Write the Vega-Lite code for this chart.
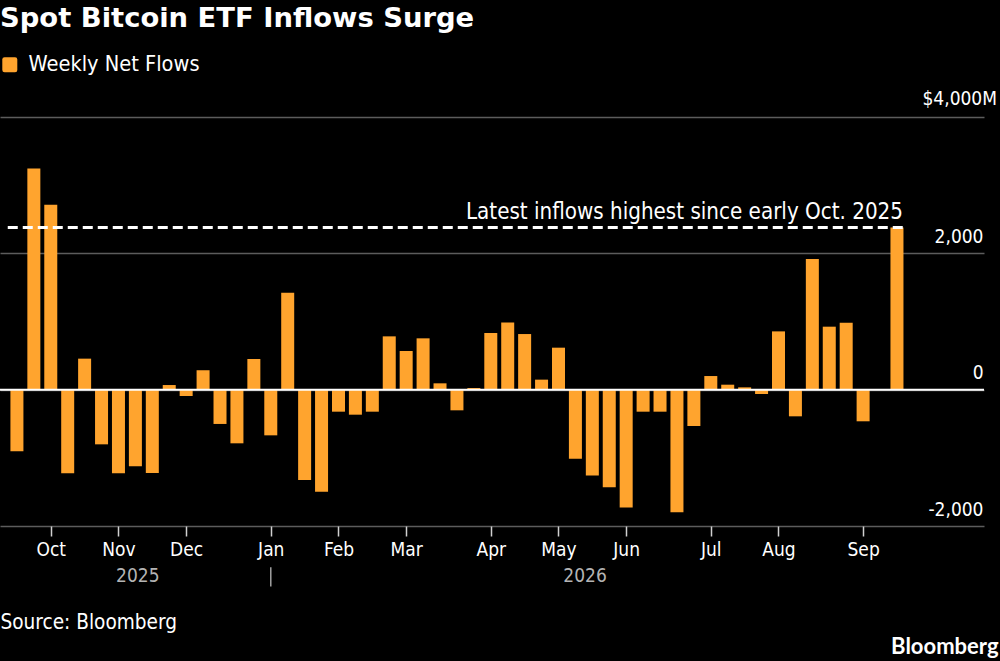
{
  "$schema": "https://vega.github.io/schema/vega-lite/v6.json",
  "background": "#000000",
  "autosize": "none",
  "padding": {"left": 0, "top": 117, "right": 16, "bottom": 135},
  "width": 984,
  "height": 409,
  "title": {"text": "Spot Bitcoin ETF Inflows Surge", "anchor": "start", "frame": "group", "offset": 22, "color": "#ffffff", "font": "DejaVu Sans", "fontSize": 27.4, "fontWeight": "bold", "limit": 700},
  "config": {"view": {"stroke": "transparent"}, "font": "DejaVu Sans Condensed"},
  "datasets": {
    "flows": [
      {"week": "2025-09-22", "flow": -904}, {"week": "2025-09-29", "flow": 3245}, {"week": "2025-10-06", "flow": 2713},
      {"week": "2025-10-13", "flow": -1227}, {"week": "2025-10-20", "flow": 455}, {"week": "2025-10-27", "flow": -802},
      {"week": "2025-11-03", "flow": -1227}, {"week": "2025-11-10", "flow": -1124}, {"week": "2025-11-17", "flow": -1222},
      {"week": "2025-11-24", "flow": 68}, {"week": "2025-12-01", "flow": -93}, {"week": "2025-12-08", "flow": 285},
      {"week": "2025-12-15", "flow": -503}, {"week": "2025-12-22", "flow": -787}, {"week": "2025-12-29", "flow": 450},
      {"week": "2026-01-05", "flow": -670}, {"week": "2026-01-12", "flow": 1422}, {"week": "2026-01-19", "flow": -1325},
      {"week": "2026-01-26", "flow": -1496}, {"week": "2026-02-02", "flow": -323}, {"week": "2026-02-09", "flow": -367},
      {"week": "2026-02-16", "flow": -323}, {"week": "2026-02-23", "flow": 782}, {"week": "2026-03-02", "flow": 567},
      {"week": "2026-03-09", "flow": 753}, {"week": "2026-03-16", "flow": 93}, {"week": "2026-03-23", "flow": -303},
      {"week": "2026-03-30", "flow": 24}, {"week": "2026-04-06", "flow": 831}, {"week": "2026-04-13", "flow": 987},
      {"week": "2026-04-20", "flow": 816}, {"week": "2026-04-27", "flow": 147}, {"week": "2026-05-04", "flow": 616},
      {"week": "2026-05-11", "flow": -1012}, {"week": "2026-05-18", "flow": -1261}, {"week": "2026-05-25", "flow": -1432},
      {"week": "2026-06-01", "flow": -1730}, {"week": "2026-06-08", "flow": -323}, {"week": "2026-06-15", "flow": -323},
      {"week": "2026-06-22", "flow": -1799}, {"week": "2026-06-29", "flow": -533}, {"week": "2026-07-06", "flow": 200},
      {"week": "2026-07-13", "flow": 73}, {"week": "2026-07-20", "flow": 34}, {"week": "2026-07-27", "flow": -64},
      {"week": "2026-08-03", "flow": 855}, {"week": "2026-08-10", "flow": -391}, {"week": "2026-08-17", "flow": 1916},
      {"week": "2026-08-24", "flow": 924}, {"week": "2026-08-31", "flow": 982}, {"week": "2026-09-07", "flow": -464},
      {"week": "2026-09-14", "flow": 5}, {"week": "2026-09-21", "flow": 2380}
    ]
  },
  "layer": [
    {
      "data": {"name": "flows"},
      "mark": {"type": "bar", "width": 13},
      "encoding": {
        "x": {
          "field": "week",
          "type": "temporal",
          "scale": {
            "type": "utc",
            "padding": 0,
            "domain": [{"year": 2025, "month": "sep", "date": 15, "utc": true}, {"year": 2026, "month": "oct", "date": 27, "utc": true}]
          },
          "axis": {
            "values": [
              {"year": 2025, "month": "oct", "date": 6, "utc": true}, {"year": 2025, "month": "nov", "date": 3, "utc": true},
              {"year": 2025, "month": "dec", "date": 1, "utc": true}, {"year": 2026, "month": "jan", "date": 5, "utc": true},
              {"year": 2026, "month": "feb", "date": 2, "utc": true}, {"year": 2026, "month": "mar", "date": 2, "utc": true},
              {"year": 2026, "month": "apr", "date": 6, "utc": true}, {"year": 2026, "month": "may", "date": 4, "utc": true},
              {"year": 2026, "month": "jun", "date": 1, "utc": true}, {"year": 2026, "month": "jul", "date": 6, "utc": true},
              {"year": 2026, "month": "aug", "date": 3, "utc": true}, {"year": 2026, "month": "sep", "date": 7, "utc": true}
            ],
            "format": "%b",
            "grid": false,
            "domain": false,
            "tickColor": "#d0d0d0",
            "tickSize": 10,
            "tickWidth": 1.5,
            "labelColor": "#ffffff",
            "labelFontSize": 19,
            "labelPadding": 4,
            "labelOverlap": false,
            "labelFlush": false,
            "title": "Source: Bloomberg",
            "titleColor": "#ffffff",
            "titleFontSize": 20.6,
            "titleFontWeight": "normal",
            "titleAnchor": "start",
            "titleAlign": "left",
            "titleBaseline": "middle",
            "titleX": 0,
            "titleY": 96
          }
        },
        "y": {
          "field": "flow",
          "type": "quantitative",
          "scale": {"domain": [-2000, 4000], "nice": false},
          "axis": {
            "orient": "right",
            "values": [-2000, 0, 2000, 4000],
            "labelExpr": "datum.value == 4000 ? '' : datum.value == -2000 ? '-2,000' : format(datum.value, ',')",
            "grid": true,
            "gridColor": "#5c5c5c",
            "gridWidth": 1.5,
            "domain": false,
            "ticks": false,
            "labelColor": "#ffffff",
            "labelFontSize": 19,
            "labelAlign": "right",
            "labelBaseline": "middle",
            "labelPadding": -1,
            "labelOffset": -17,
            "title": "Bloomberg",
            "titleColor": "#ffffff",
            "titleFont": "Lato",
            "titleFontSize": 22,
            "titleFontWeight": "bold",
            "titleAngle": 0,
            "titleAlign": "right",
            "titleBaseline": "middle",
            "titleX": 14,
            "titleY": 529
          }
        },
        "color": {
          "datum": "Weekly Net Flows",
          "scale": {"range": ["#ffa42e"]},
          "legend": {
            "orient": "none",
            "legendX": -1,
            "legendY": -63,
            "title": null,
            "symbolType": "M-0.7,-1H0.7Q1,-1 1,-0.7V0.7Q1,1 0.7,1H-0.7Q-1,1 -1,0.7V-0.7Q-1,-1 -0.7,-1Z",
            "symbolSize": 225,
            "symbolStrokeWidth": 0,
            "labelColor": "#ffffff",
            "labelFontSize": 21.6,
            "labelOffset": 8,
            "labelLimit": 300
          }
        }
      }
    },
    {
      "data": {"values": [{"level": 0, "from": "2025-09-15", "to": "2026-10-27"}]},
      "mark": {"type": "rule", "color": "#ffffff", "strokeWidth": 2},
      "encoding": {
        "x": {"field": "from", "type": "temporal"},
        "x2": {"field": "to"},
        "y": {"field": "level", "type": "quantitative"}
      }
    },
    {
      "data": {"values": [{"level": 2380, "from": "2025-09-18T05:00:00Z", "to": "2026-09-23T12:00:00Z", "note": "Latest inflows highest since early Oct. 2025"}]},
      "layer": [
        {
          "mark": {"type": "rule", "color": "#ffffff", "strokeWidth": 3, "strokeDash": [10, 5]},
          "encoding": {
            "x": {"field": "from", "type": "temporal"},
            "x2": {"field": "to"},
            "y": {"field": "level", "type": "quantitative"}
          }
        },
        {
          "mark": {"type": "text", "color": "#ffffff", "fontSize": 22.2, "align": "right", "baseline": "middle", "dy": -15},
          "encoding": {
            "x": {"field": "to", "type": "temporal"},
            "y": {"field": "level", "type": "quantitative"},
            "text": {"field": "note"}
          }
        }
      ]
    },
    {
      "data": {"values": [{"year": "2025", "at": "2025-11-11", "level": -2727}, {"year": "2026", "at": "2026-05-15", "level": -2727}]},
      "mark": {"type": "text", "color": "#b4b4b4", "fontSize": 19, "align": "center", "baseline": "middle"},
      "encoding": {
        "x": {"field": "at", "type": "temporal"},
        "y": {"field": "level", "type": "quantitative"},
        "text": {"field": "year"}
      }
    },
    {
      "data": {"values": [{"at": "2026-01-05", "from": -2604, "to": -2886}]},
      "mark": {"type": "rule", "color": "#a0a0a0", "strokeWidth": 1.5},
      "encoding": {
        "x": {"field": "at", "type": "temporal"},
        "y": {"field": "from", "type": "quantitative"},
        "y2": {"field": "to"}
      }
    },
    {
      "data": {"values": [{"at": "2026-10-27", "level": 4000, "label": "$4,000M"}]},
      "mark": {"type": "text", "color": "#ffffff", "fontSize": 19, "align": "right", "baseline": "middle", "dx": 13, "dy": -18},
      "encoding": {
        "x": {"field": "at", "type": "temporal"},
        "y": {"field": "level", "type": "quantitative"},
        "text": {"field": "label"}
      }
    }
  ]
}
